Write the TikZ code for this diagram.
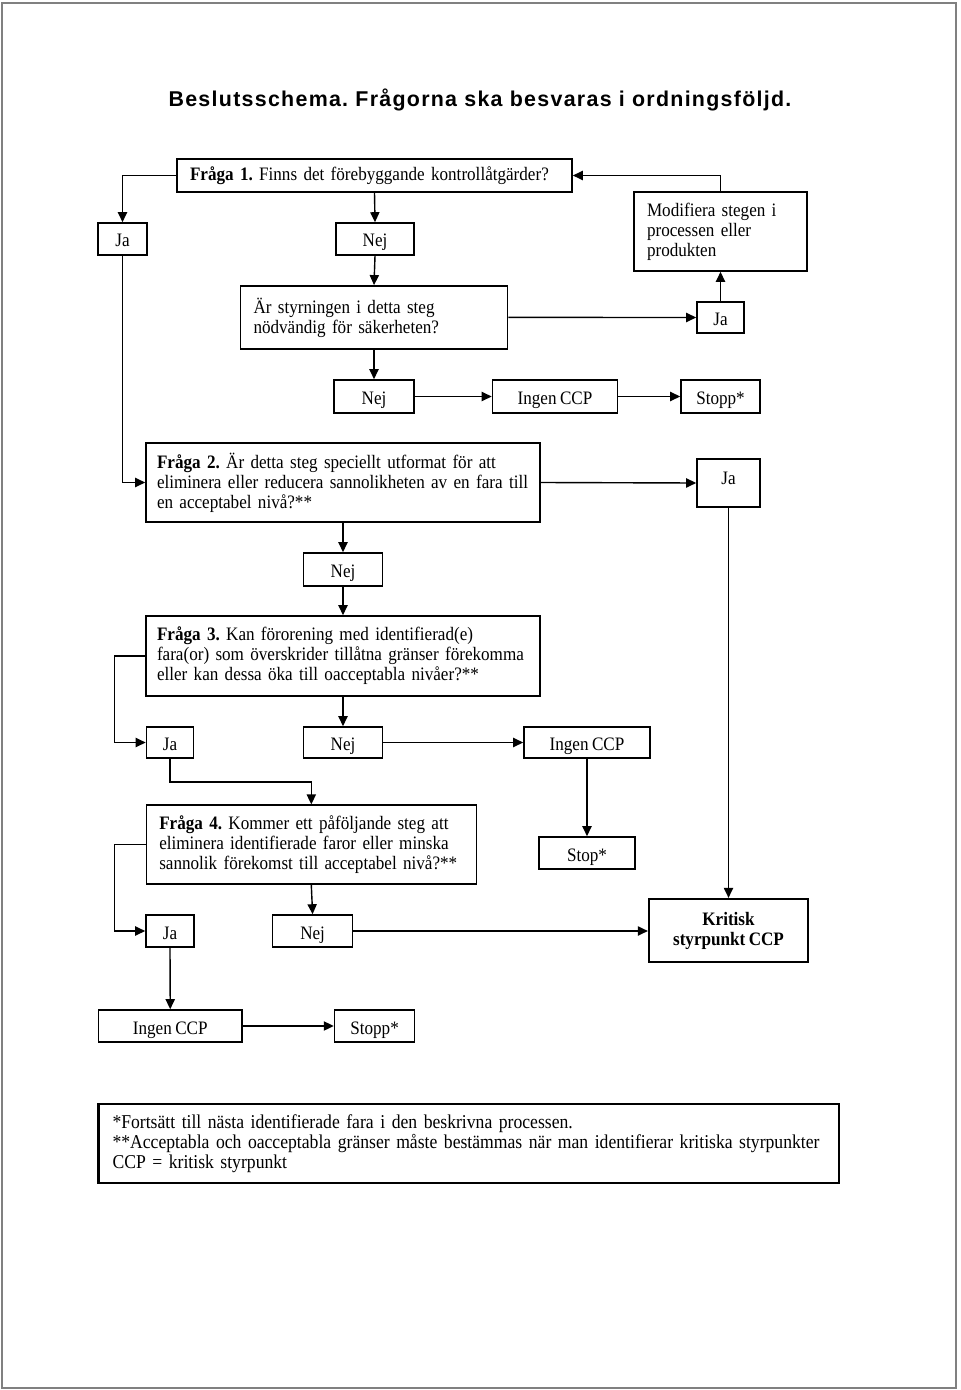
\documentclass[tikz,border=0pt]{standalone}
\usepackage{fontspec}
\setmainfont[FakeStretch=0.9]{Liberation Serif}
\newfontfamily\titlefont[LetterSpace=6]{Liberation Sans}
\usepackage{tikz}
\usetikzlibrary{arrows.meta,positioning}
\definecolor{pageline}{RGB}{128,128,128}
\frenchspacing
\newcommand{\boxfont}[1]{\fontsize{#1}{10}\selectfont\spaceskip=0.18em plus 0.1em minus 0.03em\relax}

\tikzset{
  box/.style={draw, line width=0.8pt, inner sep=0pt, align=center,
    font=\boxfont{9.5}},
  sbox/.style={box, text height=8.5pt, text depth=0.5pt},
  qbox/.style={box, align=left, inner xsep=6.5pt},
  arr/.style={line width=0.7pt, -{Triangle[length=5pt,width=4.6pt]}},
}

\begin{document}
\begin{tikzpicture}[x=0.5pt, y=-0.5pt]
  % page
  \useasboundingbox (0,0) rectangle (960,1390);
  \draw[pageline, line width=0.7pt] (2,3) rectangle (956,1388);
  \node[font=\titlefont\bfseries\fontsize{10.7}{12}\selectfont] (title) at (480,100)
    {Beslutsschema. Frågorna ska besvaras i ordningsföljd.};
  % question 1
  \node[qbox, text width=184.5pt, minimum height=16.5pt] (f1) at (374.5,175.5)
    {\textbf{Fråga 1.} Finns det förebyggande kontrollåtgärder?};
  \node[sbox, minimum width=24.5pt, minimum height=16pt] (ja1) at (122.5,239) {Ja};
  \node[sbox, minimum width=39pt, minimum height=16pt] (nej1) at (375,239) {Nej};
  \node[qbox, text width=73.5pt, minimum height=39.5pt] (mod) at (720.5,231.5)
    {Modifiera stegen i\\processen eller\\produkten};
  \node[qbox, text width=120.5pt, minimum height=31.5pt] (styr) at (374,317.4)
    {Är styrningen i detta steg\\nödvändig för säkerheten?};
  \node[sbox, minimum width=23.5pt, minimum height=15.5pt] (ja2) at (720.5,317.5) {Ja};
  \node[sbox, minimum width=40pt, minimum height=16.5pt] (nej2) at (374,396.5) {Nej};
  \node[sbox, minimum width=62.5pt, minimum height=16.5pt] (ingen1) at (555,396.5) {Ingen CCP};
  \node[sbox, minimum width=39.5pt, minimum height=16.5pt] (stopp1) at (720.5,396.5) {Stopp*};
  % question 2
  \node[qbox, inner xsep=5.5pt, text width=186pt, minimum height=39.5pt] (f2) at (343,482.5)
    {\textbf{Fråga 2.} Är detta steg speciellt utformat för att\\eliminera eller reducera sannolikheten av en fara till\\en acceptabel nivå?**};
  \node[box, text height=8.5pt, text depth=7.2pt, minimum width=31.5pt, minimum height=24pt]
    (ja3) at (728.5,483) {Ja};
  \node[sbox, minimum width=39.5pt, minimum height=16.5pt] (nej3) at (343,569.5) {Nej};
  % question 3
  \node[qbox, inner xsep=5.5pt, text width=186pt, minimum height=40pt] (f3) at (343,656)
    {\textbf{Fråga 3.} Kan förorening med identifierad(e)\\fara(or) som överskrider tillåtna gränser förekomma\\eller kan dessa öka till oacceptabla nivåer?**};
  \node[sbox, minimum width=23.5pt, minimum height=15.5pt] (ja4) at (170,742.5) {Ja};
  \node[sbox, minimum width=39.5pt, minimum height=15.5pt] (nej4) at (343,742.5) {Nej};
  \node[sbox, minimum width=63pt, minimum height=15.5pt] (ingen2) at (587,742.5) {Ingen CCP};
  % question 4
  \node[qbox, text width=152pt, minimum height=39.5pt] (f4) at (311.3,844.7)
    {\textbf{Fråga 4.} Kommer ett påföljande steg att\\eliminera identifierade faror eller minska\\sannolik förekomst till acceptabel nivå?**};
  \node[sbox, minimum width=48pt, minimum height=16pt] (stop) at (587,853) {Stop*};
  \node[box, line width=1.1pt, minimum width=79.5pt, minimum height=31.5pt,
    font=\bfseries\boxfont{9.5}] (krit) at (728.5,930.5)
    {Kritisk\\styrpunkt CCP};
  \node[sbox, minimum width=24pt, minimum height=16pt] (ja5) at (170,931) {Ja};
  \node[sbox, minimum width=40pt, minimum height=16pt] (nej5) at (312.6,931) {Nej};
  \node[sbox, minimum width=71.75pt, minimum height=16pt] (ingen3) at (170.25,1026) {Ingen CCP};
  \node[sbox, minimum width=40pt, minimum height=16pt] (stopp3) at (374.6,1026) {Stopp*};
  % notes
  \node[qbox, line width=1.1pt, inner xsep=7pt, text width=356.25pt, minimum height=39.5pt,
    font=\boxfont{9.8}] (note) at (468.75,1143.5)
    {*Fortsätt till nästa identifierade fara i den beskrivna processen.\\
     {}**Acceptabla och oacceptabla gränser måste bestämmas när man identifierar kritiska styrpunkter\\
     CCP = kritisk styrpunkt};
  % connectors
  \draw[arr] (f1.west) -| (ja1.north);
  \draw[arr] (f1.south) -- (nej1.north);
  \draw[arr] (mod.north) |- (f1.east);
  \draw[arr] (nej1.south) -- (styr.north);
  \draw[arr] (styr.east) -- (ja2.west);
  \draw[arr] (ja2.north) -- (mod.south);
  \draw[arr] (styr.south) -- (nej2.north);
  \draw[arr] (nej2.east) -- (ingen1.west);
  \draw[arr] (ingen1.east) -- (stopp1.west);
  \draw[arr] (ja1.south) |- (f2.west);
  \draw[arr] (f2.east) -- (ja3.west);
  \draw[arr] (f2.south) -- (nej3.north);
  \draw[arr] (nej3.south) -- (f3.north);
  \draw[arr] (f3.west) -- ++(-31,0) |- (ja4.west);
  \draw[arr] (f3.south) -- (nej4.north);
  \draw[arr] (nej4.east) -- (ingen2.west);
  \draw[arr] (ja4.south) -- ++(0,23) -| (f4.north);
  \draw[arr] (ingen2.south) -- (stop.north);
  \draw[arr] (ja3.south) -- (krit.north);
  \draw[arr] (f4.west) -- ++(-31,0) |- (ja5.west);
  \draw[arr] (f4.south) -- (nej5.north);
  \draw[arr] (nej5.east) -- (nej5.east -| krit.west);
  \draw[arr] (ja5.south) -- (ingen3.north);
  \draw[arr] (ingen3.east) -- (stopp3.west);
\end{tikzpicture}
\end{document}
